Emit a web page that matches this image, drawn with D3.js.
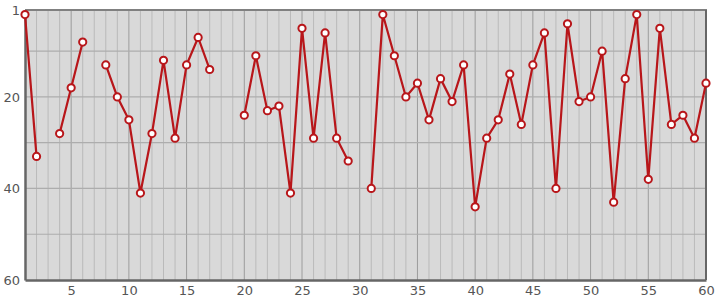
<!DOCTYPE html>
<html><head><meta charset="utf-8">
<script src="https://cdn.jsdelivr.net/npm/d3@7"></script>
<style>body{margin:0;background:#fff;} text{font-family:"DejaVu Sans",sans-serif;}</style>
</head><body>
<svg id="c" width="715" height="300"></svg>
<script>
const xs = [1,2,3,4,5,6,7,8,9,10,11,12,13,14,15,16,17,18,19,20,21,22,23,24,25,26,27,28,29,30,31,32,33,34,35,36,37,38,39,40,41,42,43,44,45,46,47,48,49,50,51,52,53,54,55,56,57,58,59,60];
const ranks = [2,33,null,28,18,8,null,13,20,25,41,28,12,29,13,7,14,null,null,24,11,23,22,41,5,29,6,29,34,null,40,2,11,20,17,25,16,21,13,44,29,25,15,26,13,6,40,4,21,20,10,43,16,2,38,5,26,24,29,17];
const xTicks = [5,10,15,20,25,30,35,40,45,50,55,60];
const yTicks = [1,20,40,60];

const svg = d3.select("#c");
const L=25, R=706, T=10, B=280;
const x = d3.scaleLinear().domain([1,60]).range([L,R]);
const y = d3.scaleLinear().domain([1,60]).range([T,B]);

svg.append("rect").attr("x",L).attr("y",T).attr("width",R-L).attr("height",B-T).attr("fill","#d9d9d9");

const g = svg.append("g");
d3.range(2,60).forEach(v=>{
  g.append("line").attr("x1",x(v)).attr("x2",x(v)).attr("y1",T).attr("y2",B)
   .attr("stroke", v%5===0 ? "#9c9c9c" : "#bababa").attr("stroke-width",1);
});
[10,20,30,40,50].forEach(v=>{
  g.append("line").attr("x1",L).attr("x2",R).attr("y1",y(v)).attr("y2",y(v))
   .attr("stroke","#adadad").attr("stroke-width",1.2);
});

svg.append("line").attr("x1",L).attr("x2",R+1).attr("y1",T).attr("y2",T).attr("stroke","#808080").attr("stroke-width",2);
svg.append("line").attr("x1",R).attr("x2",R).attr("y1",T).attr("y2",B).attr("stroke","#666").attr("stroke-width",2);

const xAxis = d3.axisBottom(x).tickValues(xTicks).tickSize(0).tickPadding(6);
const xg = svg.append("g").attr("transform",`translate(0,${B})`).call(xAxis);
xg.select(".domain").attr("stroke","#666").attr("stroke-width",2.5);
xg.selectAll("text").attr("fill","#555").attr("font-size",13).attr("font-family","DejaVu Sans");

const yAxis = d3.axisLeft(y).tickValues(yTicks).tickSize(0).tickPadding(5);
const yg = svg.append("g").attr("transform",`translate(${L},0)`).call(yAxis);
yg.select(".domain").attr("stroke","#666").attr("stroke-width",2.5);
yg.selectAll("text").attr("fill","#555").attr("font-size",13).attr("font-family","DejaVu Sans");

const data = xs.map((v,i)=>({x:v,r:ranks[i]}));
const line = d3.line().defined(d=>d.r!==null).x(d=>x(d.x)).y(d=>y(d.r));
svg.append("path").datum(data).attr("d",line).attr("fill","none").attr("stroke","#b8161a").attr("stroke-width",2.2);
svg.selectAll("circle.p").data(data.filter(d=>d.r!==null)).enter().append("circle")
  .attr("cx",d=>x(d.x)).attr("cy",d=>y(d.r)).attr("r",3.6)
  .attr("fill","#fff").attr("stroke","#b8161a").attr("stroke-width",2);
</script>
</body></html>
